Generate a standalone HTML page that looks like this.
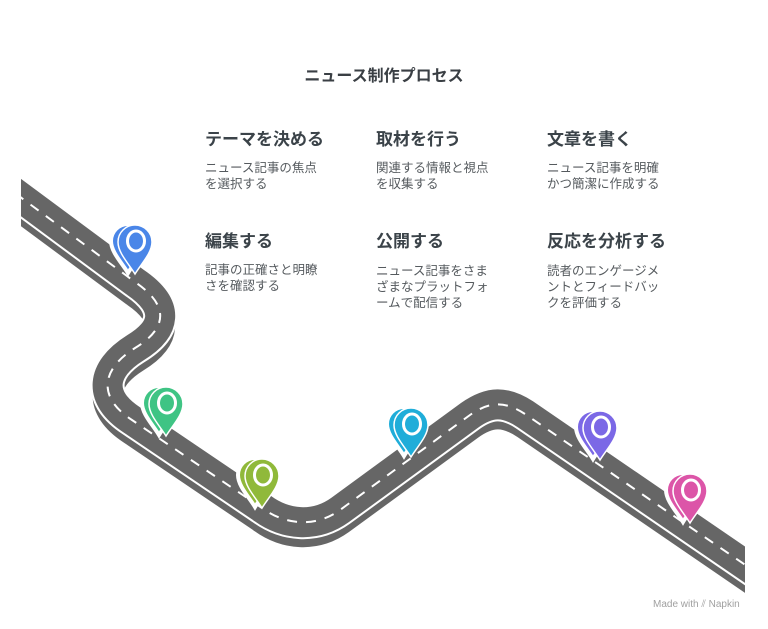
<!DOCTYPE html>
<html><head><meta charset="utf-8">
<style>
html,body{margin:0;padding:0;background:#fff;}
body{width:768px;height:629px;position:relative;overflow:hidden;font-family:"Liberation Sans","Noto Sans CJK JP",sans-serif;}
.t{position:absolute;white-space:nowrap;}
.title{left:0;width:768px;text-align:center;top:62px;font-size:16px;font-weight:bold;color:#3a3f44;}
.h{font-size:17px;font-weight:bold;color:#3b4349;}
.b{font-size:12.5px;line-height:16px;color:#555a5e;}
svg{position:absolute;left:0;top:0;}
</style></head><body>
<svg width="768" height="629" viewBox="0 0 768 629">
<defs>
<clipPath id="c"><rect x="21" y="0" width="724" height="629"/></clipPath>
<path id="r" d="M0,182 L135,282 C172,307 165,330 135,348 C100,370 98,398 132,420 L262,508 C285,525 315,528 340,510 L470,415 C490,401 505,401 525,414 L760,575"/>
<path id="pin" d="M0,32 C-6,22 -17,11 -17,0 A17,17 0 1 1 17,0 C17,11 6,22 0,32Z"/>
</defs>
<g clip-path="url(#c)" fill="none">
<use href="#r" stroke="#fff" stroke-width="36" transform="translate(0,10)"/>
<use href="#r" stroke="#666" stroke-width="30" transform="translate(0,10)"/>
<use href="#r" stroke="#fff" stroke-width="34"/>
<use href="#r" stroke="#666" stroke-width="30"/>
<use href="#r" stroke="#fff" stroke-width="2" stroke-dasharray="10 9"/>
</g>
<g stroke="#fff">
<g transform="translate(135,242)" fill="#4a86e8"><use href="#pin" transform="translate(-7,-1)" stroke-width="4"/><use href="#pin" stroke-width="1.5"/><ellipse cx="1" cy="-1" rx="8.5" ry="10" fill="none" stroke-width="3"/></g>
<g transform="translate(166,404)" fill="#3fc484"><use href="#pin" transform="translate(-7,-1)" stroke-width="4"/><use href="#pin" stroke-width="1.5"/><ellipse cx="1" cy="-1" rx="8.5" ry="10" fill="none" stroke-width="3"/></g>
<g transform="translate(262,476)" fill="#90b93a"><use href="#pin" transform="translate(-7,-1)" stroke-width="4"/><use href="#pin" stroke-width="1.5"/><ellipse cx="1" cy="-1" rx="8.5" ry="10" fill="none" stroke-width="3"/></g>
<g transform="translate(411,425)" fill="#1fadd9"><use href="#pin" transform="translate(-7,-1)" stroke-width="4"/><use href="#pin" stroke-width="1.5"/><ellipse cx="1" cy="-1" rx="8.5" ry="10" fill="none" stroke-width="3"/></g>
<g transform="translate(600,428)" fill="#7b68e6"><use href="#pin" transform="translate(-7,-1)" stroke-width="4"/><use href="#pin" stroke-width="1.5"/><ellipse cx="1" cy="-1" rx="8.5" ry="10" fill="none" stroke-width="3"/></g>
<g transform="translate(690,491)" fill="#dc55a8"><use href="#pin" transform="translate(-7,-1)" stroke-width="4"/><use href="#pin" stroke-width="1.5"/><ellipse cx="1" cy="-1" rx="8.5" ry="10" fill="none" stroke-width="3"/></g>
</g>
</svg>
<div class="t title">ニュース制作プロセス</div>
<div class="t h" style="left:205px;top:125px">テーマを決める</div>
<div class="t b" style="left:205px;top:160px">ニュース記事の焦点<br>を選択する</div>
<div class="t h" style="left:376px;top:125px">取材を行う</div>
<div class="t b" style="left:376px;top:160px">関連する情報と視点<br>を収集する</div>
<div class="t h" style="left:547px;top:125px">文章を書く</div>
<div class="t b" style="left:547px;top:160px">ニュース記事を明確<br>かつ簡潔に作成する</div>
<div class="t h" style="left:205px;top:227px">編集する</div>
<div class="t b" style="left:205px;top:262px">記事の正確さと明瞭<br>さを確認する</div>
<div class="t h" style="left:376px;top:227px">公開する</div>
<div class="t b" style="left:376px;top:263px">ニュース記事をさま<br>ざまなプラットフォ<br>ームで配信する</div>
<div class="t h" style="left:547px;top:227px">反応を分析する</div>
<div class="t b" style="left:547px;top:263px">読者のエンゲージメ<br>ントとフィードバッ<br>クを評価する</div>
<div class="t" style="left:653px;top:599px;font-size:10px;color:#a0a0a0">Made with ⫽ Napkin</div>
</body></html>
